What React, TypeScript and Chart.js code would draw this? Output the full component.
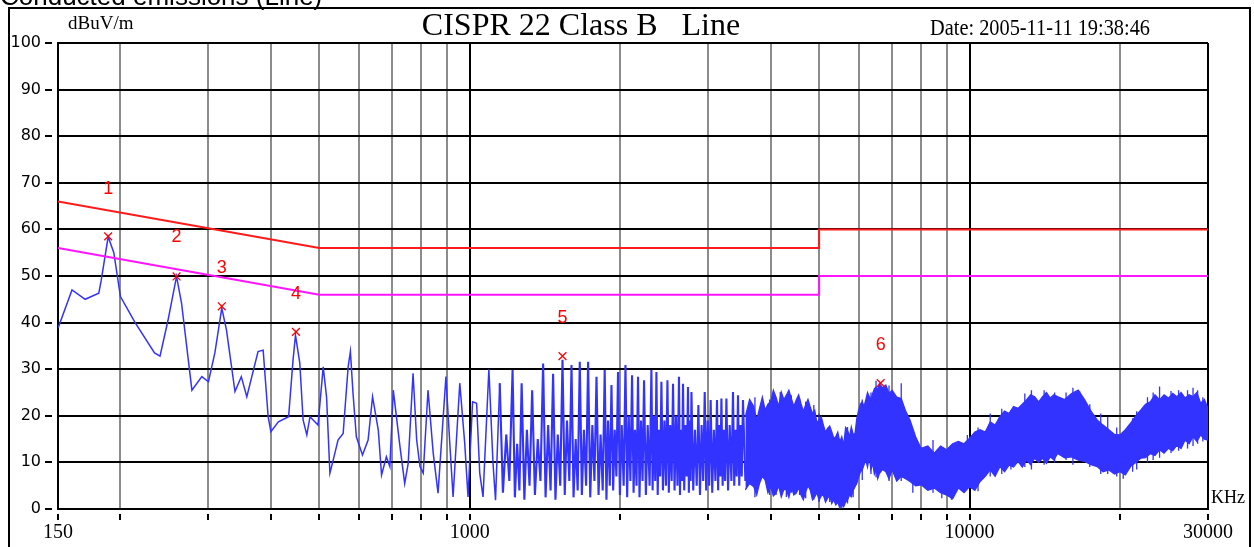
import React, { useEffect, useRef } from "react";
import { Chart, registerables } from "chart.js";

Chart.register(...registerables);

const W = 1254;
const H = 547;

// ---- axes ----
const xGridValues = [150, 200, 300, 400, 500, 600, 700, 800, 900, 1000, 2000, 3000, 4000, 5000, 6000, 7000, 8000, 9000, 10000, 20000, 30000];
const xMajorValues = [150, 1000, 10000, 30000];
const xLabelValues = [150, 1000, 10000, 30000];
const yTickValues = [0, 10, 20, 30, 40, 50, 60, 70, 80, 90, 100];

// ---- limits (CISPR 22 Class B) ----
const qpLimitFreq = [150, 500, 5000, 5000, 30000];
const qpLimitLevel = [66, 56, 56, 60, 60];
const avLimitFreq = [150, 500, 5000, 5000, 30000];
const avLimitLevel = [56, 46, 46, 50, 50];

// ---- markers ----
const markerFreq = [189, 259, 319, 449, 1533, 6640];
const markerLevel = [58.5, 49.9, 43.5, 38.0, 32.8, 27.0];
const markerLabels = ["1", "2", "3", "4", "5", "6"];
const markerLabelLevel = [68.7, 58.3, 51.8, 46.1, 41.0, 35.2];

// ---- measured trace (kHz, dBuV) ----
const traceFreq = [
  150, 160, 170, 181, 183, 189, 194, 200, 214, 234,
  240, 249, 259, 265, 278, 291, 300, 309, 319, 326,
  339, 349, 358, 377, 386, 395, 400, 414, 434, 443,
  448, 457, 464, 472, 479, 497, 509, 517, 525, 533,
  545, 558, 571, 577, 584, 593, 610, 626, 639, 656,
  666, 681, 692, 703, 725, 741, 753, 770, 783, 795,
  807, 825, 845, 864, 896, 912, 926, 955, 977, 992,
  1013, 1032, 1047, 1063, 1092, 1113, 1126, 1148, 1165, 1183,
  1200, 1218, 1231, 1244, 1257, 1270, 1286, 1301, 1317, 1333,
  1350, 1368, 1385, 1402, 1418, 1435, 1451, 1468, 1484, 1500,
  1517, 1533, 1549, 1565, 1582, 1598, 1613, 1629, 1644, 1660,
  1676, 1692, 1709, 1725, 1742, 1759, 1776, 1793, 1810, 1827,
  1845, 1862, 1877, 1891, 1906, 1921, 1936, 1950, 1965, 1980,
  1997, 2014, 2032, 2049, 2065, 2080, 2096, 2112, 2127, 2141,
  2156, 2171, 2186, 2201, 2217, 2232, 2251, 2270, 2290, 2309,
  2322, 2336, 2350, 2363, 2377, 2390, 2404, 2418, 2435, 2452,
  2469, 2486, 2502, 2518, 2535, 2551, 2569, 2586, 2604, 2622,
  2634, 2646, 2659, 2671, 2686, 2702, 2717, 2733, 2744, 2755,
  2766, 2777, 2800, 2822, 2845, 2867, 2888, 2910, 2931, 2952,
  2972, 2993, 3013, 3034, 3056, 3079, 3101, 3124, 3140, 3156,
  3172, 3188, 3206, 3225, 3243, 3262, 3287, 3312, 3338, 3363,
  3382, 3402, 3421, 3441, 3461, 3481, 3501, 3521, 3560,
];
const traceLevel = [
  38.8, 47, 45, 46.3, 49, 58.4, 55, 45.6, 40, 33.5,
  32.8, 40.5, 49.9, 44.2, 25.5, 28.4, 27.3, 33.5, 43.1, 38.4,
  25.2, 28.4, 24.1, 33.8, 34.1, 19.8, 16.6, 18.7, 19.8, 32,
  37.3, 31.3, 19.1, 15.9, 19.8, 18, 30.5, 24, 7.7, 10.5,
  14.8, 16.2, 30.5, 33.8, 24.8, 15.5, 11.6, 14.8, 24.1, 17,
  7.3, 11.2, 9.1, 25.5, 13.4, 5.5, 9.8, 29.1, 14.8, 9.1,
  7.7, 25.5, 12, 3.4, 28.4, 14.1, 2.6, 27, 14.1, 2.6,
  23, 22.7, 7.7, 2.6, 30, 9.8, 1.9, 27, 3.5, 16,
  6, 29.8, 2.5, 14, 4, 27, 2, 17, 5, 25.5,
  3, 15, 6, 31.2, 2.5, 18, 4, 29, 2, 16,
  5, 32, 3, 19, 6, 30.9, 2.5, 15, 4, 31.6,
  3, 17, 5, 31.6, 2.5, 18, 6, 28.4, 3, 16,
  4, 29.8, 2, 19, 5, 26.6, 4, 17, 7, 29.4,
  3, 18, 5, 30.9, 2.5, 20, 6, 28.7, 3.5, 17,
  5, 28.4, 2.5, 19, 6, 27.6, 3, 18, 5, 29.8,
  4, 20, 6, 29.4, 3, 17, 7, 27.3, 4, 19,
  5, 27.6, 3.5, 18, 6, 26.9, 4, 20, 5, 28.4,
  3, 17, 6, 26.9, 4, 18, 7, 26.2, 3.5, 19,
  6, 25.1, 4, 17, 5, 22.3, 3, 18, 6, 25.1,
  4, 19, 5, 23.4, 3.5, 17, 6, 23.4, 4, 18,
  7, 23.7, 5, 17, 6, 23.7, 4, 18, 6, 25.1,
  5, 17, 7, 24.4, 5, 18, 7, 23.4, 6,
];

// ---- dense part of the trace: upper / lower envelope ----
const bandFreq = [
  3560, 3630, 3700, 3750, 3800, 3850, 3900, 3950, 4000, 4050,
  4100, 4150, 4200, 4250, 4300, 4350, 4400, 4450, 4500, 4550,
  4600, 4650, 4700, 4750, 4800, 4850, 4900, 4950, 5000, 5050,
  5100, 5150, 5200, 5250, 5300, 5350, 5400, 5450, 5500, 5550,
  5600, 5650, 5700, 5750, 5800, 5850, 5900, 5950, 6000, 6050,
  6100, 6150, 6200, 6250, 6300, 6350, 6400, 6450, 6500, 6550,
  6600, 6700, 6800, 6900, 7000, 7150, 7300, 7450, 7600, 7800,
  8000, 8250, 8500, 8750, 9000, 9250, 9500, 9750, 10000, 10250,
  10500, 10750, 11000, 11250, 11500, 11750, 12000, 12250, 12500, 12750,
  13000, 13250, 13500, 13750, 14000, 14250, 14500, 14750, 15000, 15500,
  16000, 16500, 17000, 17500, 18000, 18500, 19000, 19500, 20000, 20500,
  21000, 21500, 22000, 22500, 23000, 23500, 24000, 24500, 25000, 25500,
  26000, 26500, 27000, 27500, 28000, 28500, 29000, 29500, 30000,
];
const bandUpper = [
  19.8, 23.5, 22, 19, 21.6, 24, 21.2, 22.5, 23, 25.5,
  24, 22, 25.1, 23.5, 24.4, 25.5, 23.7, 22, 23.4, 24.5,
  22.6, 21, 22.3, 23.5, 21.9, 20.5, 21.2, 18.5, 19.1, 19.8,
  18, 16.5, 17.3, 17.8, 16.6, 15.2, 15.5, 16.5, 14.4, 15.5,
  13.7, 17.5, 16.9, 15.5, 17.6, 16, 16.2, 19.5, 21.2, 22.5,
  23, 22, 23.4, 25, 24.1, 23.5, 24.8, 25.8, 26.2, 25.5,
  26.9, 26, 26.6, 24.8, 25.5, 24, 23.7, 21, 19.1, 15.5,
  13, 13.5, 12, 13.5, 12.7, 14, 14.5, 14, 15.2, 16.5,
  17, 16.5, 18.7, 18, 19.8, 21, 20.5, 22, 21.6, 22.5,
  23.4, 24.5, 24.1, 23, 24.1, 25, 23.8, 24.5, 24.1, 23.5,
  24.8, 25.5, 23.4, 21, 19.1, 18, 17, 16, 15.9, 17,
  18.4, 20, 21.2, 22.5, 23, 24.5, 23.4, 24.5, 23.8, 24.8,
  24.1, 25, 23.8, 24.5, 24.1, 25, 22.7, 23.5, 21.6,
];
const bandLower = [
  4.1, 5.5, 4.8, 3, 5.5, 7, 6.2, 3.5, 4.8, 2.8,
  3.4, 5, 2.6, 4.2, 4.1, 2.5, 4.8, 3, 3.4, 4.5,
  3, 2, 3.7, 5, 4.1, 2, 2.6, 3.5, 1.9, 2.8,
  3, 1.5, 2.3, 3, 1.2, 2, 0.9, 1.5, 0.2, 1,
  0.5, 1.5, 1.9, 3, 2.6, 4, 4.8, 5.5, 6.9, 8,
  8.4, 9.5, 10.5, 9, 11.2, 8.5, 9.8, 7.5, 8.4, 6.5,
  7.6, 8.5, 8, 6.5, 8.4, 6, 7, 6.5, 5.9, 5,
  5.2, 4, 4.5, 3.5, 3, 2.2, 4.5, 3.5, 4.8, 4,
  5.9, 7, 8.4, 7, 9.1, 8, 9.4, 9, 10.2, 9,
  10.5, 9.5, 10.9, 10, 10.9, 9.8, 11.2, 10.5, 11.9, 11,
  11.2, 10.5, 10.2, 9.5, 9.1, 8, 8.4, 7.5, 8, 7.3,
  9.1, 10, 10.9, 11, 11.9, 11.5, 12.7, 12, 13, 12.5,
  13.7, 13, 14.8, 14, 15.5, 14.5, 15.9, 15, 14.8,
];

// ---- isolated spikes standing out of the dense part ----
const spikeFreq = [
  3720, 3980, 4100, 4180, 4300, 4400, 4570, 4700, 4880, 5000,
  5250, 5330, 5550, 5700, 5850, 6100, 6350, 6500, 6900, 7300,
  7700, 8450, 8800, 9200, 9900, 10400, 11000, 11600, 12100, 12900,
  13300, 14100, 14800, 15600, 16100, 16600, 17400, 18300, 18900, 19700,
  20300, 21200, 21600, 22700, 23300, 24000, 25300, 26200, 27300, 28000,
  28600, 29300,
];
const spikeLow = [
  2.5, 3, 3, 4, 2.6, 3.5, 3, 2.3, 2, 1.5,
  1.5, 1.9, 0.1, 1.2, 2.5, 6.2, 7.5, 6.8, 6, 6,
  3.5, 3.5, 2.3, 2, 4.4, 3.8, 7, 7.5, 8.5, 9,
  8.5, 9.5, 10, 10.5, 9.5, 11, 9, 7.5, 7.5, 7,
  6.5, 8, 8.5, 10, 10.5, 11, 12, 12.5, 13, 13.5,
  14, 14.5,
];
const spikeHigh = [
  24, 23.5, 23, 25.1, 24.4, 24.4, 23.7, 23, 22.3, 20.5,
  16.9, 15, 13, 17.6, 15.5, 23.5, 25, 27.5, 26.5, 27,
  17, 14.8, 12, 13.5, 15.9, 17.5, 20.5, 21.5, 21.2, 24.8,
  25.5, 25.5, 25, 25, 26, 25.3, 22.5, 20.5, 19.8, 17.5,
  16.5, 19.5, 21, 24, 25, 26.3, 25.3, 25.5, 25.5, 26,
  25.5, 24,
];

// ---- texts ----
const topText = "Conducted emissions (Line)";
const titleText = "CISPR 22 Class B   Line";
const dateText = "Date: 2005-11-11 19:38:46";
const unitText = "dBuV/m";
const xUnitText = "KHz";

const BLUE = "#3333ff";
const RED = "#ff1a1a";
const MAGENTA = "#ff14ff";

const pts = (fs: number[], ls: number[]) => fs.map((f, i) => ({ x: f, y: ls[i] }));
const spikePts = () => {
  const out: any[] = [];
  spikeFreq.forEach((f, i) => {
    out.push({ x: f, y: spikeLow[i] }, { x: f, y: spikeHigh[i] }, { x: f, y: null });
  });
  return out;
};

export default function App() {
  const ref = useRef<HTMLCanvasElement>(null);

  useEffect(() => {
    const canvas = ref.current!;
    const deco = {
      id: "deco",
      beforeDraw(chart: any) {
        const ctx = chart.ctx;
        ctx.save();
        ctx.fillStyle = "#fff";
        ctx.fillRect(0, 0, chart.width, chart.height);
        ctx.strokeStyle = "#000";
        ctx.lineWidth = 2;
        ctx.strokeRect(9, 8, 1241, 600);
        ctx.fillStyle = "#000";
        ctx.font = '26px "Liberation Sans"';
        ctx.textAlign = "left";
        ctx.textBaseline = "alphabetic";
        ctx.fillText(topText, 0, 5);
        ctx.restore();
      },
      afterDatasetsDraw(chart: any) {
        const ctx = chart.ctx;
        const xs = chart.scales.x;
        const ys = chart.scales.y;
        ctx.save();
        ctx.fillStyle = "#ff0000";
        ctx.font = '18px "Liberation Sans"';
        ctx.textAlign = "center";
        ctx.textBaseline = "middle";
        markerLabels.forEach((t, i) => {
          ctx.fillText(t, xs.getPixelForValue(markerFreq[i]), ys.getPixelForValue(markerLabelLevel[i]));
        });
        ctx.restore();
      },
      afterDraw(chart: any) {
        const ctx = chart.ctx;
        const xs = chart.scales.x;
        const ys = chart.scales.y;
        const area = chart.chartArea;
        ctx.save();
        ctx.fillStyle = "#000";
        ctx.strokeStyle = "#000";
        ctx.font = '16px "DejaVu Sans"';
        ctx.textAlign = "right";
        ctx.textBaseline = "middle";
        ctx.lineWidth = 2;
        yTickValues.forEach((v) => {
          const py = Math.round(ys.getPixelForValue(v));
          ctx.fillText(String(v), area.left - 17, py);
          ctx.beginPath();
          ctx.moveTo(area.left - 13, py);
          ctx.lineTo(area.left - 6, py);
          ctx.stroke();
        });
        xGridValues.forEach((v) => {
          const px = Math.round(xs.getPixelForValue(v));
          ctx.beginPath();
          ctx.moveTo(px, area.bottom + 5);
          ctx.lineTo(px, area.bottom + 11);
          ctx.stroke();
        });
        ctx.font = '20px "Liberation Serif"';
        ctx.textAlign = "center";
        ctx.textBaseline = "middle";
        xLabelValues.forEach((v) => {
          ctx.fillText(String(v), xs.getPixelForValue(v), area.bottom + 24);
        });
        ctx.font = '18px "Liberation Serif"';
        ctx.textAlign = "left";
        ctx.textBaseline = "alphabetic";
        ctx.fillText(xUnitText, area.right + 3, area.bottom - 6);
        ctx.font = '19px "Liberation Serif"';
        ctx.fillText(unitText, 68, 29);
        ctx.font = '32px "Liberation Serif"';
        ctx.textAlign = "center";
        ctx.fillText(titleText, 581, 35);
        ctx.font = '23px "Liberation Serif"';
        ctx.textAlign = "left";
        ctx.fillText(dateText, 930, 35, 220);
        ctx.restore();
      },
    };

    const chart = new Chart(canvas, {
      type: "line",
      data: {
        datasets: [
          {
            label: "markers",
            data: pts(markerFreq, markerLevel),
            showLine: false,
            pointStyle: "crossRot",
            pointRadius: 5.5,
            pointBorderWidth: 1.3,
            pointBorderColor: "#ff0000",
            borderColor: "#ff0000",
            order: 0,
          },
          {
            label: "QP limit",
            data: pts(qpLimitFreq, qpLimitLevel),
            borderColor: RED,
            borderWidth: 2,
            pointRadius: 0,
            order: 1,
          },
          {
            label: "AV limit",
            data: pts(avLimitFreq, avLimitLevel),
            borderColor: MAGENTA,
            borderWidth: 2,
            pointRadius: 0,
            order: 2,
          },
          {
            label: "trace",
            data: pts(traceFreq, traceLevel),
            borderColor: BLUE,
            borderWidth: 1.5,
            segment: {
              borderWidth: (c: any) => (c.p0.parsed.x >= 1140 ? 2.1 : 1.5),
            },
            pointRadius: 0,
            order: 3,
          },
          {
            label: "band upper",
            data: pts(bandFreq, bandUpper),
            borderColor: BLUE,
            borderWidth: 1.3,
            pointRadius: 0,
            fill: false,
            order: 4,
          },
          {
            label: "band lower",
            data: pts(bandFreq, bandLower),
            borderColor: BLUE,
            borderWidth: 1.3,
            pointRadius: 0,
            fill: "-1",
            backgroundColor: BLUE,
            order: 5,
          },
          {
            label: "spikes",
            data: spikePts(),
            borderColor: BLUE,
            borderWidth: 1.3,
            pointRadius: 0,
            spanGaps: false,
            order: 6,
          },
        ],
      },
      options: {
        animation: false,
        responsive: false,
        devicePixelRatio: 1,
        layout: { padding: { left: 58, right: 46, top: 43, bottom: 38 } },
        plugins: {
          legend: { display: false },
          tooltip: { enabled: false },
          title: { display: false },
        },
        elements: { line: { tension: 0 } },
        scales: {
          x: {
            type: "logarithmic",
            min: 150,
            max: 30000,
            afterBuildTicks: (s: any) => {
              s.ticks = xGridValues.map((v) => ({ value: v }));
            },
            ticks: { display: false },
            grid: {
              drawTicks: false,
              lineWidth: 2,
              color: (c: any) => (xMajorValues.includes(c.tick?.value) ? "#000" : "#8c8c8c"),
            },
            border: { display: true, color: "#000", width: 2 },
          },
          y: {
            type: "linear",
            min: 0,
            max: 100,
            ticks: { display: false, stepSize: 10 },
            grid: { drawTicks: false, lineWidth: 2, color: "#000" },
            border: { display: true, color: "#000", width: 2 },
          },
        },
      },
      plugins: [deco],
    } as any);
    return () => chart.destroy();
  }, []);

  return (
    <div style={{ position: "fixed", left: 0, top: 0, width: W, height: H, background: "#fff" }}>
      <canvas ref={ref} width={W} height={H} style={{ display: "block", width: W, height: H }} />
    </div>
  );
}
